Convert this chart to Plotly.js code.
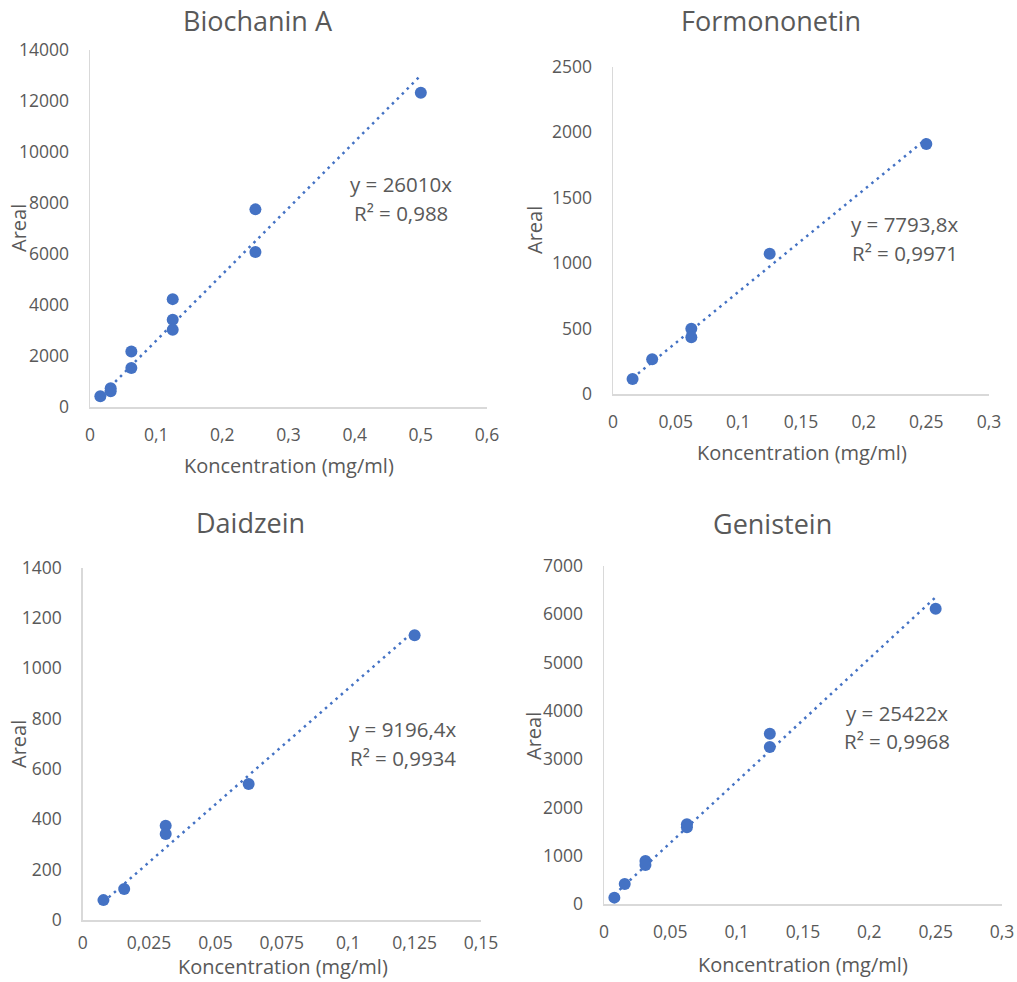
<!DOCTYPE html>
<html>
<head>
<meta charset="utf-8">
<script src="https://cdn.plot.ly/plotly-3.0.1.min.js"></script>
<style>html,body{margin:0;padding:0;background:#fff;}#chart{width:1017px;height:982px;}</style>
</head>
<body>
<div id="chart"></div>
<script>
// ---- Data ----
const titles = ["Biochanin A", "Formononetin", "Daidzein", "Genistein"];

const biochaninX = [0.015625, 0.03125, 0.03125, 0.0625, 0.0625, 0.125, 0.125, 0.125, 0.25, 0.25, 0.5];
const biochaninY = [420, 740, 620, 2180, 1530, 4230, 3420, 3030, 7750, 6080, 12320];

const formononetinX = [0.015625, 0.03125, 0.0625, 0.0625, 0.125, 0.25];
const formononetinY = [115, 265, 499, 433, 1072, 1909];

const daidzeinX = [0.0078125, 0.015625, 0.03125, 0.03125, 0.0625, 0.125];
const daidzeinY = [79, 123, 375, 342, 540, 1132];

const genisteinX = [0.0078125, 0.015625, 0.03125, 0.03125, 0.0625, 0.0625, 0.125, 0.125, 0.25];
const genisteinY = [138, 421, 897, 814, 1655, 1593, 3531, 3255, 6117];

const slopes = [26010, 7793.8, 9196.4, 25422];
const equations = ["y = 26010x", "y = 7793,8x", "y = 9196,4x", "y = 25422x"];
const rSquared = ["R² = 0,988", "R² = 0,9971", "R² = 0,9934", "R² = 0,9968"];

const xTickVals1 = [0, 0.1, 0.2, 0.3, 0.4, 0.5, 0.6];
const xTickText1 = ["0", "0,1", "0,2", "0,3", "0,4", "0,5", "0,6"];
const xTickVals2 = [0, 0.05, 0.1, 0.15, 0.2, 0.25, 0.3];
const xTickText2 = ["0", "0,05", "0,1", "0,15", "0,2", "0,25", "0,3"];
const xTickVals3 = [0, 0.025, 0.05, 0.075, 0.1, 0.125, 0.15];
const xTickText3 = ["0", "0,025", "0,05", "0,075", "0,1", "0,125", "0,15"];

const yTickVals1 = [0, 2000, 4000, 6000, 8000, 10000, 12000, 14000];
const yTickText1 = ["0", "2000", "4000", "6000", "8000", "10000", "12000", "14000"];
const yTickVals2 = [0, 500, 1000, 1500, 2000, 2500];
const yTickText2 = ["0", "500", "1000", "1500", "2000", "2500"];
const yTickVals3 = [0, 200, 400, 600, 800, 1000, 1200, 1400];
const yTickText3 = ["0", "200", "400", "600", "800", "1000", "1200", "1400"];
const yTickVals4 = [0, 1000, 2000, 3000, 4000, 5000, 6000, 7000];
const yTickText4 = ["0", "1000", "2000", "3000", "4000", "5000", "6000", "7000"];

const xLabel = "Koncentration (mg/ml)";
const yLabel = "Areal";

// ---- Layout helpers ----
const W = 1017, H = 982;
const px = v => v / W;
const py = v => 1 - v / H;
const BLUE = "#4472C4";
const GRAY = "#595959";
const FONT = "Open Sans, Noto Sans, sans-serif";

const series = [
  {x: biochaninX, y: biochaninY},
  {x: formononetinX, y: formononetinY},
  {x: daidzeinX, y: daidzeinY},
  {x: genisteinX, y: genisteinY}
];

// plot area boxes in pixels: [left, right, top, bottom]
const boxes = [
  [90, 487, 50, 407],
  [613, 989, 66.7, 394],
  [82.7, 481, 567.7, 920],
  [604, 1002, 566, 904.3]
];
const xRanges = [[0, 0.6], [0, 0.3], [0, 0.15], [0, 0.3]];
const yRanges = [[0, 14000], [0, 2500], [0, 1400], [0, 7000]];
const xTicks = [[xTickVals1, xTickText1], [xTickVals2, xTickText2], [xTickVals3, xTickText3], [xTickVals2, xTickText2]];
const yTicks = [[yTickVals1, yTickText1], [yTickVals2, yTickText2], [yTickVals3, yTickText3], [yTickVals4, yTickText4]];
const xTickLen = [11, 11, 6, 11];

const titlePos = [[258, 21], [771, 21], [250, 522], [772, 523]];
const eqPos = [[401, 184, 213], [905, 224, 253], [403, 729, 758], [897, 713, 741]];
const xLabPos = [[289, 465], [802, 453], [283, 966.5], [803, 964]];
const yLabPos = [[18, 228], [534, 230], [18, 744], [533, 736]];

const traces = [];
const layout = {
  width: W, height: H,
  margin: {l: 0, r: 0, t: 0, b: 0, pad: 0},
  paper_bgcolor: "#fff",
  plot_bgcolor: "#fff",
  showlegend: false,
  font: {family: FONT, color: GRAY, size: 18},
  annotations: []
};

series.forEach((s, i) => {
  const n = i === 0 ? "" : String(i + 1);
  const xa = "x" + n, ya = "y" + n;
  const xmin = Math.min(...s.x), xmax = Math.max(...s.x);
  // trendline through origin from the displayed equation
  traces.push({
    type: "scatter", mode: "lines", xaxis: xa, yaxis: ya,
    x: [xmin, xmax], y: [slopes[i] * xmin, slopes[i] * xmax],
    line: {color: BLUE, width: 2.5, dash: "2.5px,4.5px"},
    hoverinfo: "skip", cliponaxis: false
  });
  traces.push({
    type: "scatter", mode: "markers", xaxis: xa, yaxis: ya,
    x: s.x, y: s.y,
    marker: {color: BLUE, size: 12, line: {width: 0}},
    cliponaxis: false
  });
  const b = boxes[i];
  layout["xaxis" + n] = {
    domain: [px(b[0]), px(b[1])], anchor: ya, range: xRanges[i],
    showgrid: false, zeroline: false, showline: true, linecolor: "#d9d9d9", linewidth: 1.5,
    ticks: "outside", ticklen: xTickLen[i], tickcolor: "rgba(0,0,0,0)",
    tickvals: xTicks[i][0], ticktext: xTicks[i][1],
    tickfont: {family: FONT, size: 17.5, color: GRAY}, fixedrange: true
  };
  layout["yaxis" + n] = {
    domain: [py(b[3]), py(b[2])], anchor: xa, range: yRanges[i],
    showgrid: false, zeroline: false, showline: true, linecolor: "#d9d9d9", linewidth: 1.5,
    ticks: "outside", ticklen: 16, tickcolor: "rgba(0,0,0,0)",
    tickvals: yTicks[i][0], ticktext: yTicks[i][1],
    tickfont: {family: FONT, size: 17.5, color: GRAY}, fixedrange: true
  };
  layout.annotations.push(
    {text: titles[i], x: px(titlePos[i][0]), y: py(titlePos[i][1]), xref: "paper", yref: "paper",
     xanchor: "center", yanchor: "middle", showarrow: false, font: {family: FONT, size: 27, color: GRAY}},
    {text: equations[i], x: px(eqPos[i][0]), y: py(eqPos[i][1]), xref: "paper", yref: "paper",
     xanchor: "center", yanchor: "middle", showarrow: false, font: {family: FONT, size: 20.5, color: GRAY}},
    {text: rSquared[i], x: px(eqPos[i][0]), y: py(eqPos[i][2]), xref: "paper", yref: "paper",
     xanchor: "center", yanchor: "middle", showarrow: false, font: {family: FONT, size: 20.5, color: GRAY}},
    {text: xLabel, x: px(xLabPos[i][0]), y: py(xLabPos[i][1]), xref: "paper", yref: "paper",
     xanchor: "center", yanchor: "middle", showarrow: false, font: {family: FONT, size: 20, color: GRAY}},
    {text: yLabel, x: px(yLabPos[i][0]), y: py(yLabPos[i][1]), xref: "paper", yref: "paper",
     xanchor: "center", yanchor: "middle", showarrow: false, textangle: -90, font: {family: FONT, size: 20, color: GRAY}}
  );
});

Plotly.newPlot("chart", traces, layout, {staticPlot: true, displayModeBar: false});
</script>
</body>
</html>
